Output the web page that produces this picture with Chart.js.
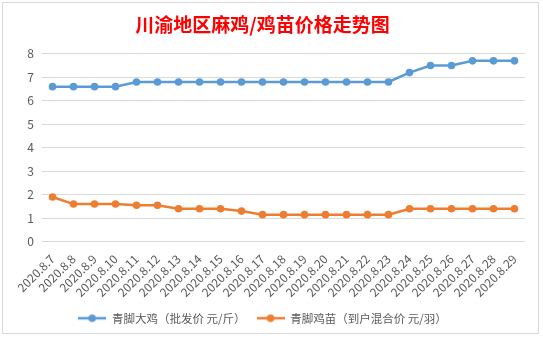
<!DOCTYPE html>
<html>
<head>
<meta charset="utf-8">
<script src="https://cdn.jsdelivr.net/npm/chart.js@4/dist/chart.umd.min.js"></script>
<style>
  html, body { margin: 0; padding: 0; background: #fff; }
  #wrap { position: relative; width: 543px; height: 339px; overflow: hidden; }
  #frame { position: absolute; left: 2px; top: 2px; width: 537px; height: 332px; border: 1px solid #d9d9d9; box-sizing: border-box; pointer-events: none; }
  canvas { position: absolute; left: 0; top: 0; }
</style>
</head>
<body>
<div id="wrap">
  <canvas id="priceChart" width="543" height="339"></canvas>
  <div id="frame"></div>
</div>
<script>
// Data
const dates = [
  '2020.8.7', '2020.8.8', '2020.8.9', '2020.8.10', '2020.8.11', '2020.8.12',
  '2020.8.13', '2020.8.14', '2020.8.15', '2020.8.16', '2020.8.17', '2020.8.18',
  '2020.8.19', '2020.8.20', '2020.8.21', '2020.8.22', '2020.8.23', '2020.8.24',
  '2020.8.25', '2020.8.26', '2020.8.27', '2020.8.28', '2020.8.29'
];
const chickenPrice = [
  6.6, 6.6, 6.6, 6.6, 6.8, 6.8, 6.8, 6.8, 6.8, 6.8, 6.8, 6.8,
  6.8, 6.8, 6.8, 6.8, 6.8, 7.2, 7.5, 7.5, 7.7, 7.7, 7.7
];
const chickPrice = [
  1.9, 1.6, 1.6, 1.6, 1.55, 1.55, 1.4, 1.4, 1.4, 1.3, 1.15, 1.15,
  1.15, 1.15, 1.15, 1.15, 1.15, 1.4, 1.4, 1.4, 1.4, 1.4, 1.4
];
const seriesNames = ['青脚大鸡（批发价 元/斤）', '青脚鸡苗（到户混合价 元/羽）'];
const titleText = '川渝地区麻鸡/鸡苗价格走势图';

const COLORS = { blue: '#5B9BD5', orange: '#ED7D31', text: '#595959', grid: '#d9d9d9' };
const FONT = '"Noto Sans CJK SC", "Noto Sans", sans-serif';

// legend swatch: short line with a dot in the middle
function makeSwatch(color) {
  const c = document.createElement('canvas');
  c.width = 28;
  c.height = 10;
  const ctx = c.getContext('2d');
  ctx.strokeStyle = color;
  ctx.lineWidth = 2.5;
  ctx.beginPath();
  ctx.moveTo(0, 5);
  ctx.lineTo(28, 5);
  ctx.stroke();
  ctx.fillStyle = color;
  ctx.beginPath();
  ctx.arc(14, 5, 3.8, 0, Math.PI * 2);
  ctx.fill();
  return c;
}
const swatches = [makeSwatch(COLORS.blue), makeSwatch(COLORS.orange)];

function lineSet(label, data, color) {
  return {
    label: label,
    data: data,
    borderColor: color,
    backgroundColor: color,
    borderWidth: 2.5,
    pointRadius: 3.8,
    pointHoverRadius: 3.8,
    pointBorderWidth: 0,
    tension: 0
  };
}

new Chart(document.getElementById('priceChart'), {
  type: 'line',
  data: {
    labels: dates,
    datasets: [
      lineSet(seriesNames[0], chickenPrice, COLORS.blue),
      lineSet(seriesNames[1], chickPrice, COLORS.orange)
    ]
  },
  options: {
    responsive: false,
    animation: false,
    layout: { padding: { left: 0, right: 18, top: 5, bottom: 5 } },
    plugins: {
      title: {
        display: true,
        text: titleText,
        color: '#FF0000',
        font: { family: FONT, size: 19, weight: 'bold' },
        padding: { top: 8, bottom: 18 }
      },
      legend: {
        position: 'bottom',
        labels: {
          usePointStyle: true,
          pointStyleWidth: 28,
          color: COLORS.text,
          font: { family: FONT, size: 11.5 },
          padding: 11,
          generateLabels: (chart) => {
            const items = Chart.defaults.plugins.legend.labels.generateLabels(chart);
            items.forEach((it, i) => { it.pointStyle = swatches[i]; });
            return items;
          }
        }
      },
      tooltip: { enabled: false }
    },
    scales: {
      x: {
        offset: true,
        grid: { display: false },
        border: { display: false },
        ticks: {
          color: COLORS.text,
          font: { family: FONT, size: 12 },
          minRotation: 45,
          maxRotation: 45,
          autoSkip: false,
          padding: 2
        }
      },
      y: {
        min: 0,
        max: 8,
        afterFit: (scale) => { scale.width = 42; },
        grid: { color: COLORS.grid, drawTicks: false },
        border: { display: false },
        ticks: {
          stepSize: 1,
          color: COLORS.text,
          font: { family: FONT, size: 12 },
          padding: 8
        }
      }
    }
  }
});
</script>
</body>
</html>
